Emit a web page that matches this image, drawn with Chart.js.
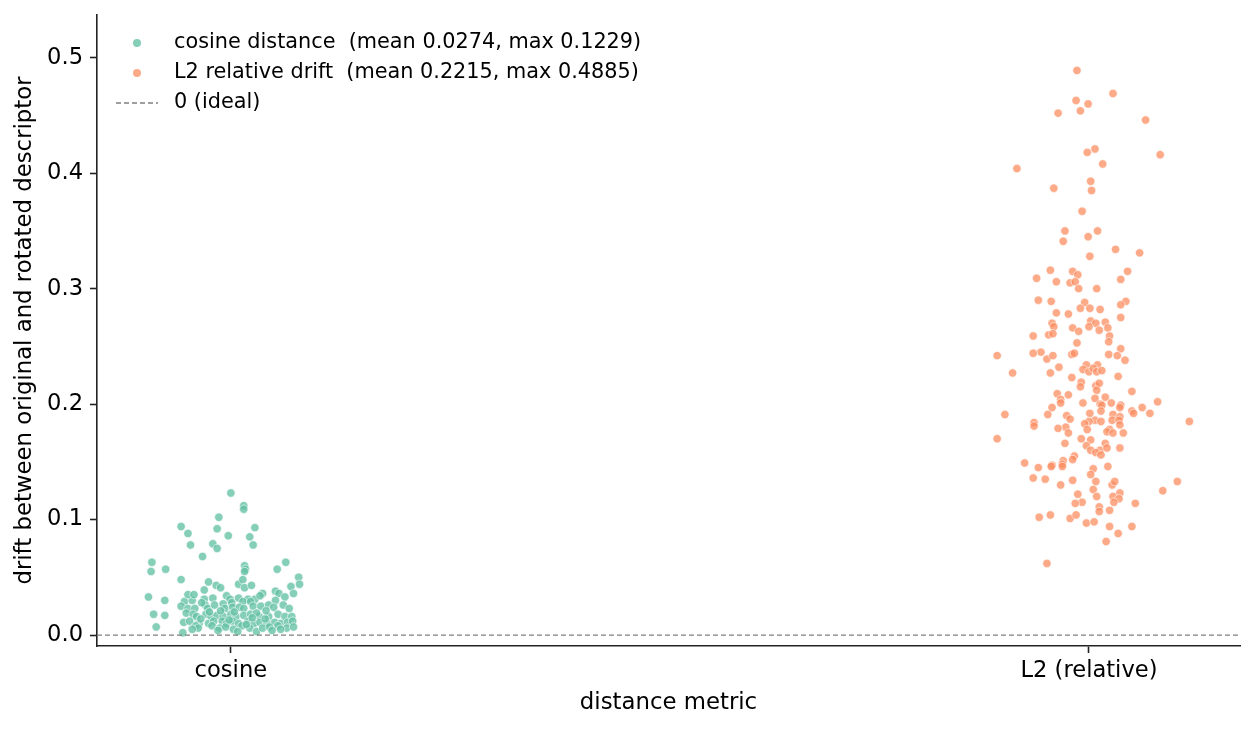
<!DOCTYPE html>
<html>
<head>
<meta charset="utf-8">
<script src="https://cdn.jsdelivr.net/npm/chart.js@4.4.1/dist/chart.umd.min.js"></script>
<style>
  html, body { margin: 0; padding: 0; background: #fff; }
  canvas { display: block; }
</style>
</head>
<body>
<canvas id="driftChart" width="1255" height="730"></canvas>
<script>
// categories on the x axis
const categories = ['cosine', 'L2 (relative)'];
const yTickValues = [0, 0.1, 0.2, 0.3, 0.4, 0.5];
const xLimits = [-0.156, 1.176];
const yLimits = [-0.0095, 0.537];

const seriesLabels = [
    'cosine distance  (mean 0.0274, max 0.1229)',
    'L2 relative drift  (mean 0.2215, max 0.4885)',
    '0 (ideal)'
];

// cosine distance per sample, with its strip jitter (fraction of a category step)
const cosineJitter = [
    0.000, 0.015, 0.015, -0.014, -0.058, -0.016, 0.028, -0.050, -0.003, 0.022, -0.047, -0.021, -0.016, 0.026,
    -0.033, -0.092, 0.064, -0.093, -0.076, 0.016, 0.017, 0.016, 0.054, -0.058, 0.079, 0.080, 0.070, -0.026,
    -0.017, -0.012, -0.031, 0.009, 0.014, 0.016, 0.024, 0.037, 0.052, 0.056, 0.073, -0.096, -0.077,
    -0.054, -0.045, -0.031, -0.021, -0.005, -0.001, 0.009, 0.020, 0.028, 0.034, 0.052, 0.063, 0.001, 0.014, 0.023, -0.050, -0.043,
    -0.058, -0.050, -0.042, -0.030, -0.027, -0.019, -0.009, -0.007, 0.002, 0.010, 0.015, 0.026, 0.035, 0.044, 0.050, 0.061, 0.068, -0.077, -0.090,
    -0.052, -0.044, -0.040, -0.029, -0.023, -0.016, -0.009, 0.000, 0.006, 0.015, 0.023, 0.033, 0.044, 0.055, 0.063, 0.071,
    -0.055, -0.048, -0.037, -0.026, -0.020, -0.010, -0.005, 0.002, 0.009, 0.020, 0.027, 0.034, 0.042, 0.051, 0.058, 0.066, 0.072,
    -0.056, -0.087, -0.041, -0.038, -0.022, -0.013, -0.006, 0.003, 0.013, 0.022, 0.030, 0.037, 0.045, 0.055, 0.065, 0.073,
    0.004, -0.012, 0.030, -0.035, 0.040, 0.018, -0.045, 0.008, 0.048, -0.002, 0.025, -0.025, -0.034, 0.041, 0.058, -0.015
];
const cosineDrift = [
    0.123, 0.112, 0.109, 0.102, 0.094, 0.092, 0.093, 0.088, 0.086, 0.085, 0.078, 0.079, 0.075, 0.078,
    0.068, 0.063, 0.063, 0.055, 0.057, 0.060, 0.057, 0.055, 0.057, 0.048, 0.050, 0.044, 0.042, 0.046,
    0.043, 0.041, 0.039, 0.044, 0.048, 0.041, 0.043, 0.036, 0.038, 0.036, 0.036, 0.033, 0.030,
    0.029, 0.030, 0.031, 0.032, 0.034, 0.031, 0.032, 0.031, 0.031, 0.034, 0.030, 0.033, 0.028, 0.029, 0.029, 0.035, 0.035,
    0.025, 0.023, 0.023, 0.026, 0.023, 0.026, 0.027, 0.023, 0.024, 0.024, 0.023, 0.025, 0.025, 0.026, 0.024, 0.026, 0.023, 0.017, 0.018,
    0.019, 0.018, 0.016, 0.018, 0.016, 0.017, 0.016, 0.018, 0.016, 0.017, 0.018, 0.016, 0.016, 0.018, 0.016, 0.016,
    0.011, 0.012, 0.010, 0.010, 0.012, 0.012, 0.010, 0.012, 0.010, 0.012, 0.010, 0.011, 0.010, 0.011, 0.010, 0.011, 0.012,
    0.002, 0.007, 0.008, 0.006, 0.008, 0.006, 0.007, 0.005, 0.008, 0.006, 0.003, 0.006, 0.007, 0.008, 0.006, 0.007,
    0.020, 0.021, 0.019, 0.014, 0.014, 0.009, 0.005, 0.003, 0.004, 0.013, 0.015, 0.020, 0.028, 0.021, 0.005, 0.004
];

// L2 relative drift per sample, with its strip jitter
const l2Jitter = [
    -0.014, 0.028, -0.015, -0.001, -0.010, -0.036, 0.066, 0.007, -0.002, 0.083, 0.016, -0.084, 0.002, -0.041,
    0.003, -0.008, -0.028, 0.010, -0.030, -0.001, 0.031, 0.059, 0.001, -0.045, -0.019, -0.013, 0.045, -0.061,
    -0.038, -0.022, -0.016, 0.037, -0.012, 0.009, -0.059, -0.044, -0.005, 0.043, 0.037, -0.010, 0.001, 0.013,
    -0.038, -0.024, 0.037, -0.043, -0.041, 0.002, 0.008, 0.019, 0.000, -0.019, -0.012, 0.012, 0.022, -0.065,
    -0.047, -0.042, 0.024, 0.023, -0.014, 0.037, -0.056, -0.065, -0.107, -0.049, -0.042, -0.020, -0.017, 0.023,
    0.033, 0.042, -0.035, -0.003, 0.010, -0.007, 0.000, 0.005, 0.009, 0.015, -0.089, -0.045, 0.034, -0.020,
    -0.009, -0.010, 0.008, 0.012, 0.009, 0.050, -0.037, -0.024, -0.033, -0.033, 0.019, 0.007, -0.007, 0.013,
    0.015, 0.026, 0.037, 0.036, 0.080, 0.062, -0.043, 0.014, 0.050, 0.052, 0.071, 0.001, -0.048, -0.098,
    0.028, -0.026, -0.022, 0.036, 0.007, 0.000, -0.005, 0.014, 0.027, 0.035, -0.064, -0.064, 0.117, 0.036,
    -0.027, -0.036, -0.002, 0.024, -0.107, -0.024, 0.021, 0.028, 0.040, -0.009, 0.002, -0.028, -0.003, 0.019,
    0.036, 0.002, 0.013, 0.008, 0.014, 0.021, -0.017, -0.019, -0.030, -0.031, -0.031, -0.075, -0.059, -0.043,
    -0.044, 0.022, 0.005, -0.065, -0.051, -0.019, 0.002, 0.008, -0.033, 0.027, 0.030, 0.005, 0.103, 0.086,
    -0.013, 0.036, 0.009, 0.028, 0.035, 0.029, -0.008, -0.016, 0.054, 0.012, 0.012, 0.024, -0.058, -0.045,
    -0.022, -0.015, -0.003, 0.006, 0.050, 0.024, 0.034, 0.020, -0.049
];
const l2Drift = [
    0.489, 0.469, 0.463, 0.460, 0.454, 0.452, 0.446, 0.421, 0.418, 0.416, 0.408, 0.404, 0.393, 0.387,
    0.385, 0.367, 0.350, 0.350, 0.341, 0.345, 0.334, 0.331, 0.328, 0.316, 0.315, 0.312, 0.315, 0.309,
    0.306, 0.305, 0.306, 0.308, 0.300, 0.300, 0.290, 0.289, 0.288, 0.289, 0.286, 0.283, 0.283, 0.282,
    0.279, 0.278, 0.275, 0.270, 0.267, 0.272, 0.270, 0.271, 0.267, 0.266, 0.263, 0.264, 0.266, 0.259,
    0.260, 0.261, 0.259, 0.254, 0.253, 0.248, 0.245, 0.244, 0.242, 0.239, 0.242, 0.243, 0.244, 0.243,
    0.242, 0.238, 0.232, 0.234, 0.234, 0.230, 0.228, 0.231, 0.228, 0.229, 0.227, 0.227, 0.224, 0.223,
    0.219, 0.215, 0.216, 0.218, 0.212, 0.211, 0.209, 0.208, 0.204, 0.201, 0.206, 0.205, 0.201, 0.200,
    0.199, 0.201, 0.199, 0.197, 0.202, 0.197, 0.197, 0.194, 0.194, 0.192, 0.192, 0.192, 0.191, 0.191,
    0.191, 0.190, 0.187, 0.189, 0.186, 0.185, 0.183, 0.185, 0.186, 0.186, 0.184, 0.181, 0.185, 0.182,
    0.180, 0.179, 0.178, 0.178, 0.170, 0.175, 0.176, 0.175, 0.175, 0.170, 0.169, 0.166, 0.164, 0.166,
    0.162, 0.160, 0.160, 0.158, 0.156, 0.162, 0.155, 0.152, 0.151, 0.148, 0.146, 0.149, 0.145, 0.147,
    0.146, 0.146, 0.144, 0.136, 0.135, 0.134, 0.139, 0.133, 0.130, 0.130, 0.133, 0.126, 0.133, 0.125,
    0.122, 0.123, 0.120, 0.120, 0.118, 0.115, 0.115, 0.114, 0.114, 0.111, 0.107, 0.108, 0.102, 0.104,
    0.101, 0.104, 0.097, 0.098, 0.094, 0.094, 0.088, 0.081, 0.062
];

const FONT = 'DejaVu Sans';
const INK = '#222222';

function stripPoints(catIndex, jitter, values) {
    return values.map((v, i) => ({ x: catIndex + jitter[i], y: v }));
}

// legend drawn inside the plot area, top-left, like the matplotlib one
const insideLegend = {
    id: 'insideLegend',
    afterDraw(chart) {
        const ctx = chart.ctx;
        const area = chart.chartArea;
        const x0 = area.left + 19;
        const rowH = 30;
        ctx.save();
        ctx.font = '20.8px "' + FONT + '"';
        ctx.textBaseline = 'middle';
        chart.data.datasets.forEach((ds, i) => {
            const y = area.top + 28 + i * rowH;
            if (ds.type === 'line') {
                ctx.strokeStyle = ds.borderColor;
                ctx.lineWidth = ds.borderWidth;
                ctx.setLineDash(ds.borderDash);
                ctx.beginPath();
                ctx.moveTo(x0, y);
                ctx.lineTo(x0 + 42, y);
                ctx.stroke();
                ctx.setLineDash([]);
            } else {
                ctx.fillStyle = ds.backgroundColor;
                ctx.beginPath();
                ctx.arc(x0 + 21, y, 4, 0, Math.PI * 2);
                ctx.fill();
            }
            ctx.fillStyle = '#000';
            ctx.fillText(ds.label, x0 + 58, y);
        });
        ctx.restore();
    }
};

const ctx = document.getElementById('driftChart').getContext('2d');
new Chart(ctx, {
    type: 'scatter',
    data: {
        datasets: [
            {
                label: seriesLabels[0],
                data: stripPoints(0, cosineJitter, cosineDrift),
                backgroundColor: 'rgba(102, 194, 165, 0.8)',
                borderColor: 'rgba(255, 255, 255, 0.85)',
                borderWidth: 0.7,
                pointRadius: 4.2,
                order: 1
            },
            {
                label: seriesLabels[1],
                data: stripPoints(1, l2Jitter, l2Drift),
                backgroundColor: 'rgba(252, 141, 98, 0.75)',
                borderColor: 'rgba(255, 255, 255, 0.85)',
                borderWidth: 0.7,
                pointRadius: 4.2,
                order: 0
            },
            {
                type: 'line',
                label: seriesLabels[2],
                data: [{ x: xLimits[0], y: 0 }, { x: xLimits[1], y: 0 }],
                borderColor: '#808080',
                borderWidth: 1.3,
                borderDash: [5, 3],
                pointRadius: 0,
                fill: false,
                order: -1
            }
        ]
    },
    options: {
        responsive: false,
        animation: false,
        devicePixelRatio: 1,
        layout: { padding: { top: 15, right: 15, left: 0, bottom: 0 } },
        plugins: {
            legend: { display: false },
            tooltip: { enabled: false }
        },
        scales: {
            x: {
                type: 'linear',
                min: xLimits[0],
                max: xLimits[1],
                afterBuildTicks: scale => {
                    scale.ticks = categories.map((c, i) => ({ value: i }));
                },
                afterFit: scale => {
                    scale.height = 84;
                    scale.paddingLeft = 0;
                    scale.paddingRight = 0;
                },
                ticks: {
                    callback: value => categories[value],
                    color: '#000',
                    font: { family: FONT, size: 22.6 },
                    padding: 5,
                    maxRotation: 0
                },
                grid: {
                    drawOnChartArea: false,
                    drawTicks: true,
                    tickLength: 7,
                    tickWidth: 1.6,
                    tickColor: INK
                },
                border: { display: true, color: INK, width: 1.6 },
                title: {
                    display: true,
                    text: 'distance metric',
                    color: '#000',
                    font: { family: FONT, size: 22.8, lineHeight: 1.25 },
                    padding: { top: 0, bottom: 13 }
                }
            },
            y: {
                type: 'linear',
                min: yLimits[0],
                max: yLimits[1],
                afterBuildTicks: scale => {
                    scale.ticks = yTickValues.map(v => ({ value: v }));
                },
                afterFit: scale => {
                    scale.width = 97;
                    scale.paddingTop = 0;
                    scale.paddingBottom = 0;
                },
                ticks: {
                    callback: value => value.toFixed(1),
                    color: '#000',
                    font: { family: FONT, size: 22.6 },
                    padding: 7
                },
                grid: {
                    drawOnChartArea: false,
                    drawTicks: true,
                    tickLength: 7,
                    tickWidth: 1.6,
                    tickColor: INK
                },
                border: { display: true, color: INK, width: 1.6 },
                title: {
                    display: true,
                    text: 'drift between original and rotated descriptor',
                    color: '#000',
                    font: { family: FONT, size: 22.8, lineHeight: 1.25 },
                    padding: { top: 11, bottom: 0 }
                }
            }
        }
    },
    plugins: [insideLegend]
});
</script>
</body>
</html>
